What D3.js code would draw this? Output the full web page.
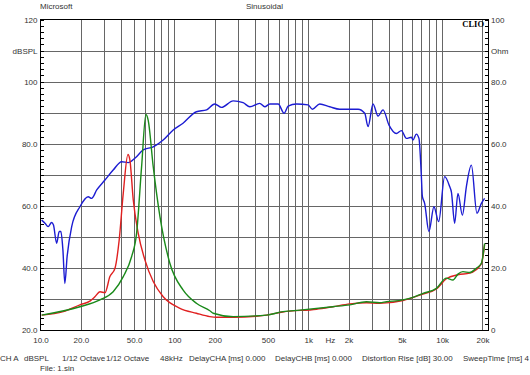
<!DOCTYPE html>
<html>
<head>
<meta charset="utf-8">
<script src="https://cdn.jsdelivr.net/npm/d3@7"></script>
<style>
  body { margin: 0; background: #fff; }
  svg { display: block; }
  text { font-family: "Liberation Sans", Arial, sans-serif; font-size: 8px; fill: #333; }
  .grid line { stroke: #666; stroke-width: 1; shape-rendering: crispEdges; }
  .axis path, .axis line { stroke: #000; shape-rendering: crispEdges; }
</style>
</head>
<body>
<svg id="chart" width="530" height="375"></svg>
<script>
// frequency response (blue), dBSPL
var blueFreq = [10.2, 10.8, 11.4, 12.1, 12.5, 13.2, 13.8, 14.2, 14.7, 15.2, 15.8, 17.1, 19.7, 22.7, 24.1, 26.3, 30.3, 34.9, 40.4, 45.2, 50.7, 58.5, 69.5, 82.5, 98, 116, 146, 174, 200, 225, 275, 326, 366, 434, 473, 516, 596, 660, 707, 816, 997, 1075, 1218, 1447, 1718, 1982, 2355, 2641, 2795, 3046, 3320, 3617, 4009, 4552, 4962, 5408, 5892, 6055, 6415, 6710, 6995, 7114, 7398, 7965, 8683, 9415, 10440, 11380, 11720, 12400, 13120, 14160, 15170, 16530, 18190, 19630, 20760];
var blueDb = [55.4, 54.4, 53.3, 54.6, 53.8, 47.9, 51.7, 51.7, 45.8, 35.0, 43.6, 53.3, 59.7, 62.9, 62.4, 65.1, 68.3, 71.5, 74.2, 73.9, 75.3, 78.0, 79.0, 81.2, 84.4, 86.6, 90.3, 90.9, 92.8, 91.7, 93.8, 93.2, 91.9, 93.0, 91.9, 92.8, 92.8, 89.8, 92.1, 92.8, 92.5, 91.1, 92.8, 91.9, 91.1, 91.1, 91.1, 89.8, 85.5, 92.8, 88.9, 90.9, 86.0, 83.3, 84.2, 81.7, 82.1, 81.2, 83.1, 81.7, 69.4, 63.0, 60.8, 51.7, 59.7, 54.9, 69.4, 66.2, 64.5, 54.4, 64.0, 57.0, 66.2, 73.1, 57.6, 60.8, 62.4];

// red trace
var redFreq = [10.2, 14.8, 19.7, 23.4, 25.5, 27.8, 30.3, 33.0, 36.0, 38.7, 41.5, 45.0, 46.5, 49.3, 53.7, 60.3, 69.5, 82.5, 110, 146, 184, 207, 275, 488, 645, 1151, 1524, 2042, 2718, 3417, 5094, 7190, 9054, 10750, 13120, 16030, 19630, 20760];
var redDb = [24.8, 25.9, 28.1, 29.3, 30.7, 32.3, 32.0, 37.2, 39.9, 49.0, 64.0, 76.5, 74.8, 61.9, 51.1, 42.5, 35.6, 30.7, 27.0, 25.4, 24.3, 24.1, 24.1, 24.8, 25.8, 26.7, 27.5, 28.4, 28.8, 28.6, 29.5, 31.6, 33.2, 36.5, 37.8, 38.3, 41.3, 47.6];

// green trace
var greenFreq = [10.2, 19.7, 27.8, 34.9, 41.5, 47.9, 52.2, 56.9, 61.3, 63.7, 69.5, 78.0, 92.5, 116, 146, 184, 195, 275, 488, 648, 865, 1526, 2042, 2718, 3417, 3833, 5094, 6055, 7190, 9054, 10750, 12040, 13120, 14290, 16030, 17990, 19630, 20760];
var greenDb = [24.8, 27.5, 29.7, 32.3, 37.2, 43.6, 51.1, 72.6, 89.4, 87.6, 72.6, 56.5, 41.5, 32.9, 28.6, 26.2, 25.4, 24.3, 24.8, 25.9, 26.4, 27.5, 28.1, 29.1, 28.8, 29.1, 29.7, 30.5, 31.8, 33.4, 36.7, 36.1, 38.0, 38.8, 38.5, 39.9, 41.5, 47.9];

var xTickVals = [10, 20, 50, 100, 200, 500, 1000, 1450, 2000, 5000, 10000, 20000];
var xTickText = ["10.0", "20.0", "50.0", "100", "200", "500", "1k", "Hz", "2k", "5k", "10k", "20k"];
var leftTickVals = [20, 40, 60, 80, 100, 110, 120];
var leftTickText = ["20.0", "40.0", "60.0", "80.0", "100", "dBSPL", "120"];
var rightTickVals = [0, 20, 40, 60, 80, 90, 100];
var rightTickText = ["0", "20.0", "40.0", "60.0", "80.0", "Ohm", "100"];

var infoItems = ["CH A", "dBSPL", "1/12 Octave", "1/12 Octave", "48kHz", "DelayCHA [ms] 0.000", "DelayCHB [ms] 0.000", "Distortion Rise [dB] 30.00", "SweepTime [ms] 4"];
var infoX = [0, 24, 62, 106, 160, 189, 275, 362, 463];

var plotL = 40.5, plotR = 488, plotT = 19.5, plotB = 330;

var svg = d3.select("#chart");

var x = d3.scaleLog().domain([10, 22000]).range([plotL, plotR]);
var y = d3.scaleLinear().domain([20, 120]).range([plotB, plotT]);
var yOhm = d3.scaleLinear().domain([0, 100]).range([plotB, plotT]);

// grid
var grid = svg.append("g").attr("class", "grid");
grid.selectAll(".v").data(x.ticks().filter(function(d) { return d > 10; }))
    .enter().append("line")
    .attr("x1", function(d) { return Math.round(x(d)) + 0.5; })
    .attr("x2", function(d) { return Math.round(x(d)) + 0.5; })
    .attr("y1", plotT).attr("y2", plotB);
grid.selectAll(".h").data(d3.range(30, 120, 10))
    .enter().append("line")
    .attr("x1", plotL).attr("x2", plotR)
    .attr("y1", function(d) { return Math.round(y(d)) + 0.5; })
    .attr("y2", function(d) { return Math.round(y(d)) + 0.5; });

// frame
svg.append("rect")
    .attr("x", plotL).attr("y", plotT)
    .attr("width", plotR - plotL).attr("height", plotB - plotT)
    .attr("fill", "none").attr("stroke", "#000").attr("shape-rendering", "crispEdges");

// minor ticks, inside
svg.append("g").attr("class", "axis")
    .attr("transform", "translate(" + plotL + ",0)")
    .call(d3.axisRight(y).ticks(50).tickSize(3).tickFormat(""))
    .select(".domain").remove();
svg.append("g").attr("class", "axis")
    .attr("transform", "translate(" + plotR + ",0)")
    .call(d3.axisLeft(yOhm).ticks(50).tickSize(3).tickFormat(""))
    .select(".domain").remove();

// labels
var yl = svg.append("g")
    .attr("transform", "translate(" + (plotL - 3) + ",0)")
    .call(d3.axisLeft(y).tickValues(leftTickVals).tickSize(0).tickPadding(0)
        .tickFormat(function(d, i) { return leftTickText[i]; }));
yl.select(".domain").remove();

var yr = svg.append("g")
    .attr("transform", "translate(" + (plotR + 3) + ",0)")
    .call(d3.axisRight(yOhm).tickValues(rightTickVals).tickSize(0).tickPadding(0)
        .tickFormat(function(d, i) { return rightTickText[i]; }));
yr.select(".domain").remove();

var xl = svg.append("g")
    .attr("transform", "translate(0," + (plotB + 7) + ")")
    .call(d3.axisBottom(x).tickValues(xTickVals).tickSize(0).tickPadding(0)
        .tickFormat(function(d, i) { return xTickText[i]; }));
xl.select(".domain").remove();

svg.selectAll(".tick text").attr("fill", "#333").style("font-size", "8px")
    .style("font-family", "'Liberation Sans', Arial, sans-serif");

// curves
var line = d3.line().curve(d3.curveMonotoneX);
function draw(fs, vs, color) {
    svg.append("path")
        .datum(fs.map(function(f, i) { return [x(f), y(vs[i])]; }))
        .attr("d", line)
        .attr("fill", "none")
        .attr("stroke", color)
        .attr("stroke-width", 1.4)
        .attr("stroke-linejoin", "round");
}
draw(blueFreq, blueDb, "#1c1cd2");
draw(redFreq, redDb, "#e02020");
draw(greenFreq, greenDb, "#1a8a1a");

// header
svg.append("text").attr("x", 40).attr("y", 9).text("Microsoft");
svg.append("text").attr("x", 246).attr("y", 9).text("Sinusoidal");
svg.append("text").attr("x", plotR - 4).attr("y", 27)
    .attr("text-anchor", "end")
    .style("font-family", "'Liberation Serif', 'DejaVu Serif', serif")
    .style("font-weight", "bold").style("font-size", "8.5px").style("fill", "#000")
    .text("CLIO");

// info row
svg.selectAll(".info").data(infoItems).enter().append("text")
    .attr("x", function(d, i) { return infoX[i]; })
    .attr("y", 361)
    .text(function(d) { return d; });
svg.append("text").attr("x", 40).attr("y", 371).text("File: 1.sin");
</script>
</body>
</html>
